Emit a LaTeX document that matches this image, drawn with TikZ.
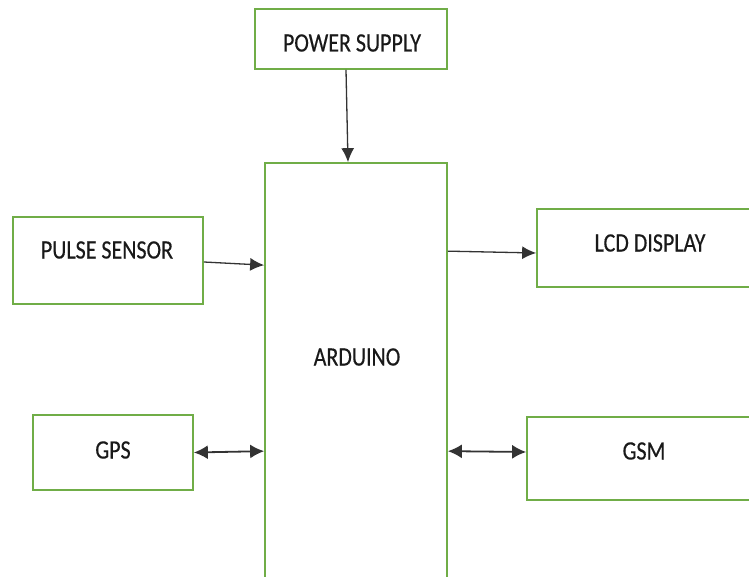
\documentclass[tikz,border=0pt]{standalone}
\usepackage{fontspec}
\setmainfont{Carlito}[FakeStretch=0.83,FakeBold=0.4]
\usetikzlibrary{arrows.meta}
\definecolor{boxgreen}{RGB}{112,173,71}
\definecolor{txt}{RGB}{25,25,25}
\begin{document}
\begin{tikzpicture}[x=1pt,y=-1pt,
  blk/.style={draw=boxgreen,line width=1.7pt,fill=none,inner sep=0pt},
  lbl/.style={text=txt,inner sep=0pt,font=\fontsize{26.5}{30}\selectfont},
  conn/.style={draw=black!80,line width=1.3pt,-{Latex[length=14pt,width=13pt]}},
  bconn/.style={draw=black!80,line width=1.8pt,{Latex[length=14pt,width=14pt]}-{Latex[length=14pt,width=14pt]}}]
\useasboundingbox (0,0) rectangle (749,577);
\fill[white] (0,0) rectangle (749,577);
\clip (0,0) rectangle (749,577);
% boxes
\node[blk,minimum width=192pt,minimum height=60pt] (power) at (351,39) {};
\node[blk,minimum width=182pt,minimum height=437pt] (ard) at (356,381.5) {};
\node[blk,minimum width=190pt,minimum height=87pt] (pulse) at (108,260.5) {};
\node[blk,minimum width=160pt,minimum height=75pt] (gps) at (113,452.5) {};
\node[blk,minimum width=230pt,minimum height=78pt] (lcd) at (652,248) {};
\node[blk,minimum width=240pt,minimum height=83pt] (gsm) at (647,458.5) {};
% labels
\node[lbl] (tpower) at (352,43) {POWER SUPPLY};
\node[lbl] (tard) at (357,357) {ARDUINO};
\node[lbl] (tpulse) at (107,250) {PULSE SENSOR};
\node[lbl] (tgps) at (113,450) {GPS};
\node[lbl] (tlcd) at (650,243) {LCD DISPLAY};
\node[lbl] (tgsm) at (644,451) {GSM};
% connectors
\draw[conn] ([xshift=-5pt]power.south) -- ([xshift=-8pt]ard.north);
\draw[conn] ([yshift=-1.5pt]pulse.east) -- ([yshift=-103pt]ard.north west);
\draw[conn] ([yshift=-89pt]ard.north east) -- ([yshift=-5pt]lcd.west);
\draw[bconn] (gps.east) -- ([yshift=-289pt]ard.north west);
\draw[bconn] ([yshift=-289pt]ard.north east) -- ([yshift=6.5pt]gsm.west);
\end{tikzpicture}
\end{document}
